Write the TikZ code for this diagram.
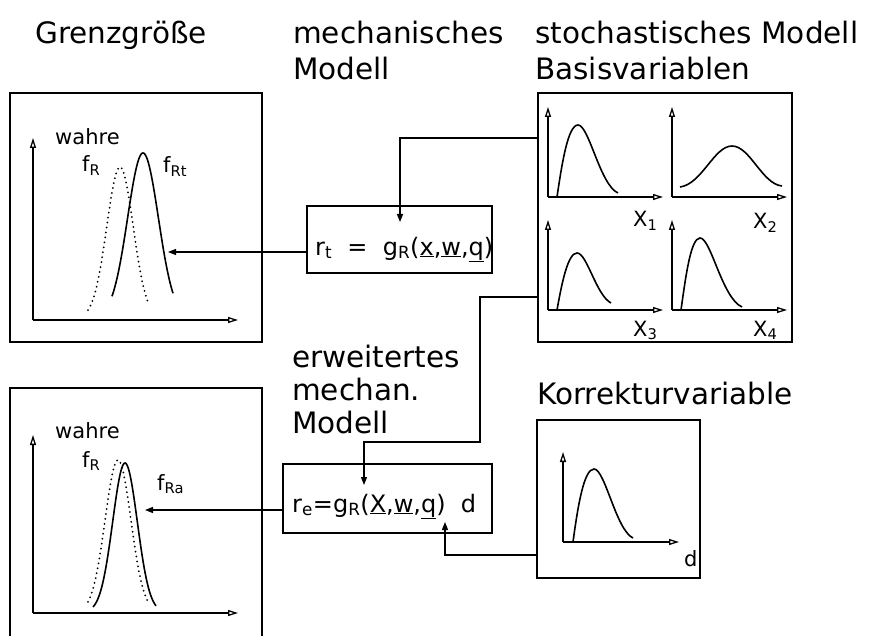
\documentclass[tikz,border=0pt]{standalone}
\usepackage{fontspec}
\setmainfont{DejaVu Sans}
\usetikzlibrary{arrows.meta}
\tikzset{
  boxline/.style={line width=1.6pt},
  box/.style={draw, line width=1.6pt, inner sep=0pt},
  conn/.style={line width=1.3pt, -{Triangle[length=8pt,width=6pt]}},
  axis/.style={line width=1.3pt, -{Triangle[open,length=10pt,width=6pt]}},
  curve/.style={line width=1.6pt},
  dots/.style={line width=2pt, dash pattern=on 0pt off 5pt, line cap=round},
  lbl/.style={inner sep=0pt, anchor=base west, font=\fontsize{21}{21}\selectfont},
  big/.style={inner sep=0pt, anchor=base west, font=\fontsize{29.5}{29.5}\selectfont},
  eq/.style={inner sep=0pt, anchor=base west, font=\fontsize{24}{24}\selectfont}
}
\begin{document}
\begin{tikzpicture}[x=1pt,y=-1pt]
\useasboundingbox (0,0) rectangle (877,636);

% titles
\node[big] (t1) at (35,44) {Grenzgröße};
\node[big] (t2) at (293,44) {mechanisches};
\node[big] (t3) at (293,80) {Modell};
\node[big] (t4) at (535,44) {stochastisches Modell};
\node[big] (t5) at (535,80) {Basisvariablen};

% boxes
\node[box, minimum width=252pt, minimum height=249pt] (A) at (136,217.5) {};
\node[inner sep=0pt, minimum width=252pt, minimum height=248pt] (B) at (136,512) {};
\draw[boxline] (B.south west) -- (B.north west) -- (B.north east) -- (B.south east);
\node[box, minimum width=185pt, minimum height=67pt] (rt) at (399.5,239.5) {};
\node[box, minimum width=209pt, minimum height=69pt] (re) at (387.5,498.5) {};
\node[box, minimum width=254pt, minimum height=249pt] (C) at (665,217.5) {};
\node[box, minimum width=163pt, minimum height=158pt] (D) at (618.5,499) {};

% formulas
\node[eq] (ft) at (315,255) {r\textsubscript{t}\ \ =\ \ g\textsubscript{R}(\underline{x},\underline{w},\underline{q})};
\node[eq] (fe) at (292,512) {r\textsubscript{e}=g\textsubscript{R}(\underline{X},\underline{w},\underline{q})\ \ d};

% side texts
\node[big] (e1) at (292,367) {erweitertes};
\node[big] (e2) at (292,400) {mechan.};
\node[big] (e3) at (292,433) {Modell};
\node[big] (k) at (537,404) {Korrekturvariable};

% box A content
\draw[axis] (33,320) -- (33,138);
\draw[axis] (33,320) -- (238,320);
\draw[dots] plot[domain=88:148, samples=50] (\x, {318-151*exp(-((\x-120)/13.2)^2/2)});
\draw[curve] plot[domain=112:173, samples=60] (\x, {318-165*exp(-((\x-143)/15.4)^2/2)});
\node[lbl] (wa) at (55,145) {wahre};
\node[lbl] (fa) at (82,172) {f\textsubscript{R}};
\node[lbl] (fat) at (163,173) {f\textsubscript{Rt}};

% box B content
\draw[axis] (33,613) -- (33,435);
\draw[axis] (33,613) -- (238,613);
\draw[dots] plot[domain=88:148, samples=50] (\x, {612-152*exp(-((\x-118)/12.9)^2/2)});
\draw[curve] plot[domain=93:156, samples=60] (\x, {612-149*exp(-((\x-125)/12.3)^2/2)});
\node[lbl] (wb) at (55,438) {wahre};
\node[lbl] (fb) at (82,467) {f\textsubscript{R}};
\node[lbl] (fba) at (157,490) {f\textsubscript{Ra}};

% box C content
\draw[axis] (548,197) -- (548,107);
\draw[axis] (548,197) -- (663,197);
\draw[curve] (557,197) .. controls (562,163) and (568,125) .. (578,125) .. controls (589,125) and (600,185) .. (618,193);
\node[lbl] (x1) at (633,227) {X\textsubscript{1}};
\draw[axis] (672,197) -- (672,107);
\draw[axis] (672,197) -- (787,197);
\draw[curve] (680,187) .. controls (702,184) and (714,146) .. (732,146) .. controls (750,146) and (762,184) .. (782,186);
\node[lbl] (x2) at (753,229) {X\textsubscript{2}};
\draw[axis] (548,310) -- (548,220);
\draw[axis] (548,310) -- (663,310);
\draw[curve] (557,310) .. controls (562,282) and (568,253) .. (577,253) .. controls (587,253) and (596,295) .. (611,303);
\node[lbl] (x3) at (633,336) {X\textsubscript{3}};
\draw[axis] (672,310) -- (672,220);
\draw[axis] (672,310) -- (787,310);
\draw[curve] (681,310) .. controls (686,274) and (691,238) .. (700,238) .. controls (711,238) and (722,298) .. (742,307);
\node[lbl] (x4) at (753,336) {X\textsubscript{4}};

% box D content
\draw[axis] (563,542) -- (563,452);
\draw[axis] (563,542) -- (679,542);
\draw[curve] (573,542) .. controls (578,505) and (584,469) .. (594,469) .. controls (605,469) and (616,530) .. (633,538);
\node[lbl] (dl) at (684,566) {d};

% connectors
\coordinate (k1) at (400,138);
\coordinate (p1) at (400,222);
\draw[conn] (C.west |- k1) -- (k1) -- (p1);
\coordinate (k2) at (480,297);
\coordinate (k3) at (364,442);
\coordinate (p2) at (364,485);
\draw[conn] (C.west |- k2) -- (k2) |- (k3) -- (p2);
\coordinate (pa) at (168,252);
\draw[conn] (rt.west |- pa) -- (pa);
\coordinate (pb) at (145,510);
\draw[conn] (re.west |- pb) -- (pb);
\coordinate (k4) at (445,555);
\coordinate (p3) at (445,522);
\draw[conn] (D.west |- k4) -- (k4) -- (p3);
\end{tikzpicture}
\end{document}
